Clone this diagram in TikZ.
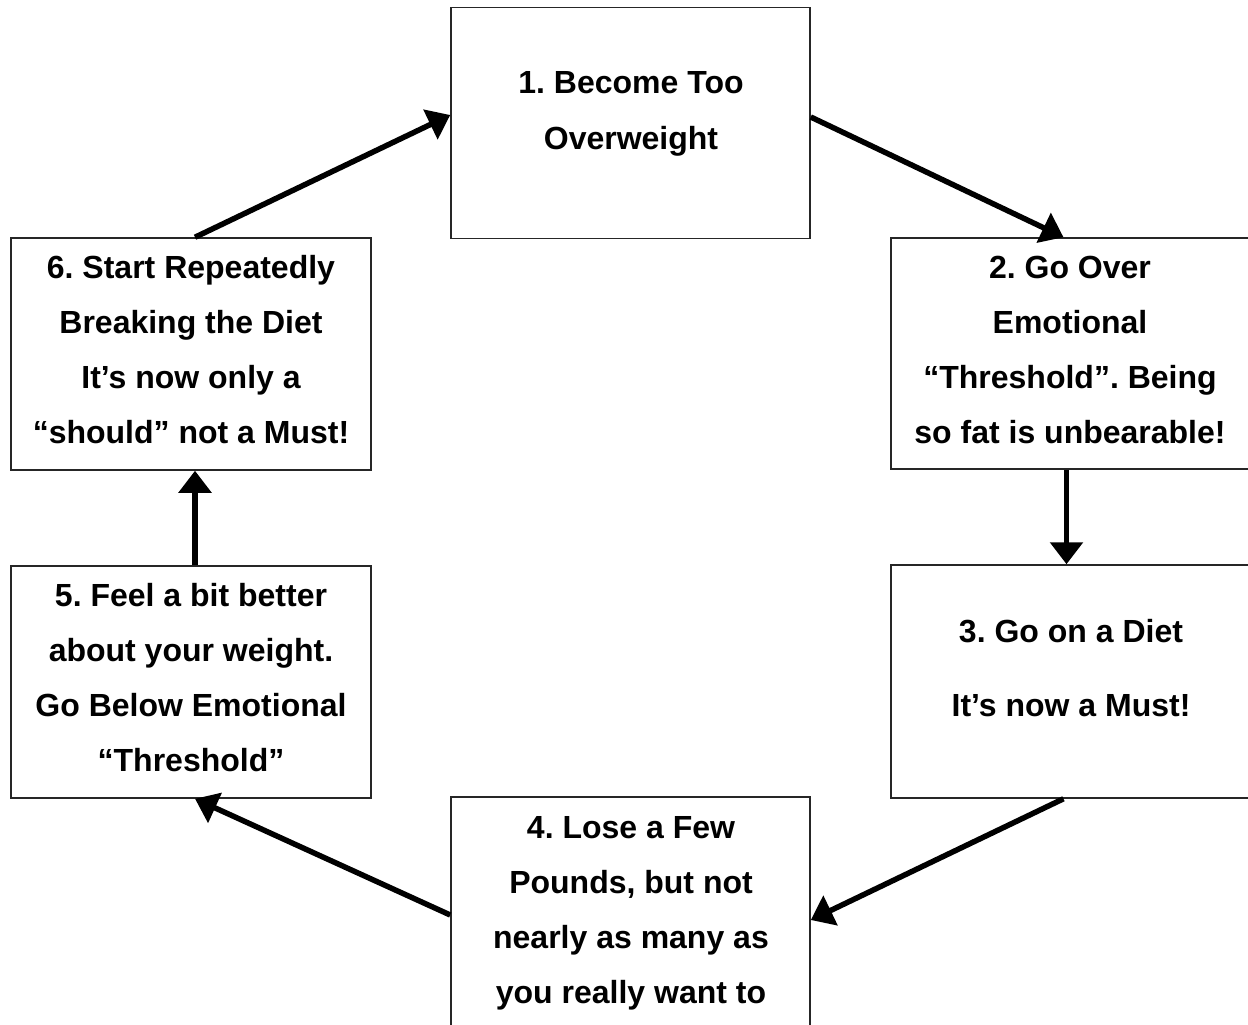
\documentclass[tikz,border=0pt]{standalone}
\usepackage{fontspec}
\setmainfont{Liberation Sans}
\usetikzlibrary{arrows.meta}
\frenchspacing
\begin{document}
\begin{tikzpicture}[x=1pt,y=-1pt,
  stepbox/.style={draw=black!85, line width=1.5pt, rectangle, inner sep=0pt,
    minimum width=359pt, minimum height=231pt},
  steptext/.style={anchor=base, inner sep=0pt,
    font=\fontsize{32}{38}\selectfont\bfseries},
  flow/.style={line width=5.5pt, -{Triangle[length=22pt,width=32pt]}}]
\useasboundingbox (0,0) rectangle (1248,1025);
\clip (0,0) rectangle (1248,1025);

% boxes
\node[stepbox] (b1) at (630.5,123) {};
\node[stepbox] (b2) at (1070.5,353.5) {};
\node[stepbox, minimum height=233pt] (b3) at (1070.5,681.5) {};
\node[stepbox, minimum height=232pt] (b4) at (630.5,913) {};
\node[stepbox, minimum width=360pt, minimum height=232pt] (b5) at (191,682) {};
\node[stepbox, minimum width=360pt, minimum height=232pt] (b6) at (191,354) {};

% labels, one node per line
\node[steptext] (t1a) at (631,94) {1. Become Too};
\node[steptext] (t1b) at (631,149) {Overweight};

\node[steptext] (t2a) at (1070,278) {2. Go Over};
\node[steptext] (t2b) at (1070,333) {Emotional};
\node[steptext] (t2c) at (1070,388) {“Threshold”. Being};
\node[steptext] (t2d) at (1070,443) {so fat is unbearable!};

\node[steptext] (t3a) at (1071,642) {3. Go on a Diet};
\node[steptext] (t3b) at (1071,716) {It’s now a Must!};

\node[steptext] (t4a) at (631,838) {4. Lose a Few};
\node[steptext] (t4b) at (631,893) {Pounds, but not};
\node[steptext] (t4c) at (631,948) {nearly as many as};
\node[steptext] (t4d) at (631,1003) {you really want to};

\node[steptext] (t5a) at (191,606) {5. Feel a bit better};
\node[steptext] (t5b) at (191,661) {about your weight.};
\node[steptext] (t5c) at (191,716) {Go Below Emotional};
\node[steptext] (t5d) at (191,771) {“Threshold”};

\node[steptext] (t6a) at (191,278) {6. Start Repeatedly};
\node[steptext] (t6b) at (191,333) {Breaking the Diet};
\node[steptext] (t6c) at (191,388) {It’s now only a};
\node[steptext] (t6d) at (191,443) {“should” not a Must!};

% cycle arrows
\draw[flow] ([yshift=6pt]b1.east) -- ([xshift=-7pt]b2.north);
\draw[flow] ([xshift=-4pt]b2.south) -- ([xshift=-4pt]b3.north);
\draw[flow] ([xshift=-7pt]b3.south) -- ([yshift=-7pt]b4.east);
\draw[flow] ([yshift=-2pt]b4.west) -- ([xshift=4pt]b5.south);
\draw[flow] ([xshift=4pt]b5.north) -- ([xshift=4pt]b6.south);
\draw[flow] ([xshift=4pt]b6.north) -- ([yshift=8pt]b1.west);
\end{tikzpicture}
\end{document}
